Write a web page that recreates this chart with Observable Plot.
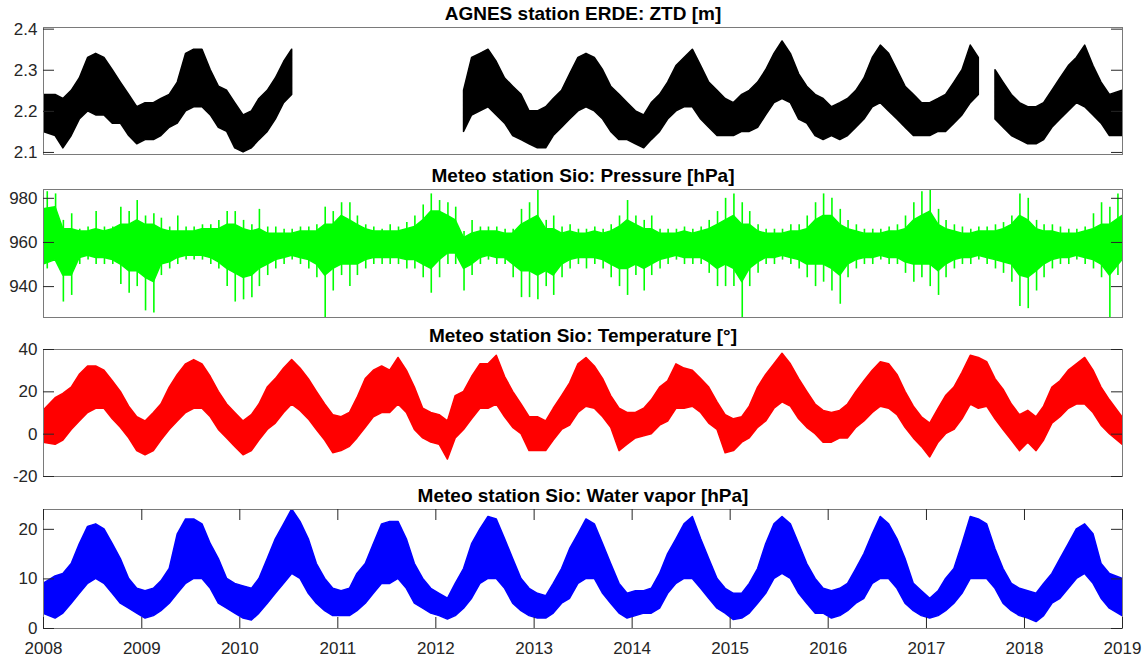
<!DOCTYPE html>
<html><head><meta charset="utf-8">
<script src="https://cdn.jsdelivr.net/npm/d3@7"></script>
<script src="https://cdn.jsdelivr.net/npm/@observablehq/plot@0.6"></script>
<style>
body{margin:0;background:#fff}
#chart{position:relative;width:1146px;height:662px;overflow:hidden;background:#fff}
#chart svg{position:absolute;left:0}
</style>
</head><body><div id="chart"></div><script>
// ---- monthly data, Jan 2008 .. Dec 2018 (132 months) ----
// ZTD [m] monthly band (low / high); null = no data
const ztdLo = [
2.15,2.14,2.11,2.14,2.18,2.20,2.19,2.19,2.17,2.17,2.14,2.12,
2.13,2.13,2.14,2.16,2.17,2.20,2.21,2.21,2.19,2.16,2.15,2.11,
2.10,2.11,2.13,2.15,2.18,2.22,2.24,null,null,null,null,null,
null,null,null,null,null,null,null,null,null,null,null,null,
null,null,null,2.15,2.19,2.20,2.21,2.19,2.17,2.14,2.13,2.12,
2.11,2.11,2.14,2.16,2.18,2.20,2.21,2.20,2.18,2.15,2.13,2.13,
2.12,2.11,2.13,2.15,2.18,2.20,2.21,2.21,2.18,2.16,2.14,2.14,
2.14,2.15,2.15,2.16,2.19,2.22,2.23,2.22,2.18,2.17,2.14,2.13,
2.14,2.13,2.14,2.16,2.18,2.21,2.22,2.20,2.18,2.16,2.14,2.14,
2.14,2.15,2.15,2.17,2.19,2.22,2.24,null,2.18,2.16,2.14,2.13,
2.12,2.12,2.13,2.16,2.18,2.20,2.22,2.21,2.19,2.17,2.14,2.14];
const ztdHi = [
2.24,2.24,2.23,2.25,2.28,2.33,2.34,2.33,2.30,2.27,2.24,2.21,
2.22,2.22,2.23,2.24,2.27,2.34,2.35,2.35,2.30,2.26,2.25,2.22,
2.19,2.20,2.23,2.25,2.28,2.32,2.35,null,null,null,null,null,
null,null,null,null,null,null,null,null,null,null,null,null,
null,null,null,2.25,2.33,2.34,2.35,2.32,2.28,2.26,2.24,2.20,
2.20,2.21,2.23,2.25,2.29,2.33,2.34,2.33,2.30,2.26,2.24,2.22,
2.20,2.19,2.22,2.24,2.27,2.31,2.33,2.35,2.31,2.27,2.25,2.23,
2.22,2.24,2.25,2.27,2.30,2.34,2.37,2.34,2.29,2.26,2.24,2.23,
2.21,2.22,2.23,2.25,2.28,2.33,2.36,2.34,2.30,2.26,2.24,2.22,
2.22,2.23,2.24,2.27,2.30,2.36,2.33,null,2.30,2.27,2.24,2.22,
2.21,2.21,2.22,2.25,2.28,2.31,2.33,2.36,2.31,2.27,2.24,2.25];

// Pressure [hPa]: dense core band and monthly extremes
const presCoreLo = [
950,952,945,945,953,954,953,953,952,950,947,947,
944,942,950,951,953,954,954,954,953,951,948,946,
944,945,948,950,952,953,954,953,952,950,945,948,
950,950,950,952,953,953,953,953,952,952,950,948,
952,955,955,948,950,953,954,953,953,950,947,947,
945,947,945,950,952,953,953,953,952,950,948,948,
950,948,950,952,953,954,953,953,953,951,948,950,
948,942,948,951,953,953,954,953,952,950,950,950,
948,945,950,952,953,953,954,953,953,951,950,950,
950,947,950,952,953,953,954,953,952,951,950,945,
944,947,950,952,953,953,954,953,952,950,945,952];
const presCoreHi = [
975,976,966,966,965,965,966,965,966,968,968,970,
968,968,966,965,965,965,965,966,966,966,968,968,
966,965,966,964,964,964,964,965,965,965,968,968,
972,970,968,966,965,965,965,965,966,967,970,974,
974,972,970,962,964,965,965,965,964,964,968,970,
972,966,966,964,965,964,964,965,964,965,967,970,
968,966,966,964,964,964,965,964,965,966,968,970,
972,968,968,965,964,964,964,965,965,966,970,972,
972,968,966,965,964,964,964,965,965,966,970,972,
974,968,966,965,964,964,965,965,965,966,968,972,
970,966,965,965,964,964,964,965,966,968,968,972];
const presMin = [
948,952,933,936,950,952,950,950,950,941,937,940,
929,928,945,948,950,952,952,952,950,948,940,933,
934,935,940,945,948,950,952,950,948,944,926,938,
945,940,945,948,950,950,950,950,948,948,944,937,
944,950,950,938,945,950,952,950,950,944,935,935,
934,940,936,944,948,950,948,950,948,944,940,936,
945,938,945,948,950,952,950,950,950,946,940,940,
940,926,940,946,950,950,952,950,948,944,940,942,
938,932,944,948,950,950,952,950,950,946,942,944,
940,936,944,948,950,950,952,950,948,946,942,931,
930,938,944,948,950,950,952,950,948,944,926,945];
const presMax = [
983,982,970,973,966,967,974,967,967,976,974,979,
972,973,971,967,972,967,967,968,968,970,974,974,
970,968,975,967,967,966,966,967,967,968,976,974,
978,978,972,968,967,966,968,967,969,972,977,982,
979,978,976,965,970,967,967,967,966,966,975,978,
984,970,972,967,968,966,966,967,966,968,972,979,
972,970,972,966,966,966,967,966,967,970,974,980,
982,978,974,968,966,966,966,968,968,972,978,982,
980,975,970,968,966,966,966,967,968,972,978,983,
984,975,970,968,967,966,967,967,968,969,972,982,
980,970,968,968,967,966,966,967,973,978,976,982];

// Temperature [°] monthly band
const tempLo = [
-4,-5,-3,2,6,10,12,12,7,3,-2,-8,
-10,-8,-3,2,6,10,12,12,8,2,-2,-6,
-10,-8,-3,2,5,10,14,11,7,2,-3,-9,
-8,-6,-2,3,8,10,10,14,10,2,-2,-4,
-5,-12,-2,2,7,12,12,14,8,3,0,-8,
-8,-8,-3,2,4,10,13,12,8,3,-8,-5,
-2,-1,0,4,6,12,12,13,10,5,2,-9,
-8,-4,-2,3,6,12,15,13,7,3,0,-4,
-4,-2,-2,3,6,10,13,12,9,3,-2,-6,
-11,-4,0,2,7,14,12,13,7,2,-3,-8,
-4,-8,-3,5,8,12,14,14,10,4,0,-5];
const tempHi = [
11,17,19,22,28,32,32,30,25,20,13,8,
6,10,14,22,28,33,35,33,27,20,14,10,
6,9,14,22,26,31,35,31,26,20,14,9,
8,10,17,26,30,32,30,36,30,22,12,10,
9,6,18,20,27,33,33,37,27,20,14,8,
8,6,12,18,24,33,36,32,26,18,12,10,
10,12,16,22,25,33,31,30,26,22,15,9,
7,8,13,22,28,33,38,33,26,20,14,11,
10,11,14,20,25,30,34,33,28,20,13,8,
5,12,18,22,29,37,36,34,26,21,14,9,
11,8,13,22,25,30,33,36,30,22,16,8];

// Water vapor [hPa] monthly band
const vapLo = [
3,2,3,5,7,9,10,9,7,5,4,3,
2,2.5,3.5,5,7,9,10,10,8,5,4,3,
2,1.6,3,5,7,9,11,10,7,5,3.5,2.5,
2.5,2.5,3.5,5,7,9,9,10,8,5,4,3,
2.5,1.8,2.5,4,6,9,10,10,8,5,3.5,2.5,
2,2,3,5,6,9,10,10,7,5,3,2,
2.5,3,3,4,7,9,10,10,8,6,4,3,
1.7,2,3,5,7,10,11,10,7,5,3,3,
2,2.5,3.5,5,6,9,10,10,8,5,3.5,2.5,
2,2.5,3.5,5,7,10,10,10,8,5,3.5,2.5,
2,1.3,2.5,5,6,8,10,11,9,6,4,2.5];
const vapHi = [
9,10.5,11,13,17,20.5,21,20,17,14,10,8,
7.5,8,9.5,12,19,22,22,21,17,14,10,9,
8.5,8,10,14,18,21,24,21.5,18,13,10,8,
7.5,8,11,13,17,21,21.5,21.5,18,13,10,8,
7,6,9,12,17,20,22.5,22,18,14,10,8,
7,6.5,9,12,16,19,22,21,17,13,9,7,
7.5,7.5,8,11,15,18,21,22.5,18,14,10,8,
7,7,9,12,17,21,22.5,21,17,13,10,8,
7.5,8,9,12,15,19,22.5,21,18,14,9,7.5,
6,7.5,10,12,17,22.5,22,21,16,12,9,8,
7.5,7,9,11,14,17,20,21,19,13,11,10];

// axis ticks
const xTickYears = [2008,2009,2010,2011,2012,2013,2014,2015,2016,2017,2018,2019];
const ztdTicks = [2.1,2.2,2.3,2.4];
const presTicks = [940,960,980];
const tempTicks = [-20,0,20,40];
const vapTicks = [0,10,20];

// ---- build table ----
const t0 = new Date(Date.UTC(2008,0,1)), t1 = new Date(Date.UTC(2019,0,1));
const months = d3.utcMonth.range(t0, t1);
const num = v => (v == null ? NaN : v);
const rows = months.map((m, i) => ({
  date: i === 0 ? m : i === months.length - 1 ? t1 : d3.utcDay.offset(m, 14),
  mid: d3.utcDay.offset(m, 14),
  ztdLo: num(ztdLo[i]), ztdHi: num(ztdHi[i]),
  pcLo: presCoreLo[i], pcHi: presCoreHi[i], pMin: presMin[i], pMax: presMax[i],
  tLo: tempLo[i], tHi: tempHi[i],
  vLo: vapLo[i], vHi: vapHi[i]
}));
const xTicks = xTickYears.map(y => new Date(Date.UTC(y,0,1)));

const W = 1146, ML = 43, MR = 24, FW = W - ML - MR;
const TICK = "#262626";
const plain = d => String(d);
const panels = [
  {title:"AGNES station ERDE: ZTD [m]", lo:"ztdLo", hi:"ztdHi", color:"#000000",
   domain:[2.095,2.404], ticks:ztdTicks, fmt:d3.format(".1f"), top:0, mt:27, fh:127, mb:4},
  {title:"Meteo station Sio: Pressure [hPa]", lo:"pcLo", hi:"pcHi", color:"#00ff00", spikes:true,
   domain:[926,984], ticks:presTicks, fmt:plain, top:160, mt:29, fh:128, mb:6},
  {title:"Meteo station Sio: Temperature [°]", lo:"tLo", hi:"tHi", color:"#ff0000",
   domain:[-20,40], ticks:tempTicks, fmt:plain, top:323, mt:26, fh:127, mb:6},
  {title:"Meteo station Sio: Water vapor [hPa]", lo:"vLo", hi:"vHi", color:"#0000ff", xaxis:true,
   domain:[0,24], ticks:vapTicks, fmt:plain, top:482, mt:27, fh:119, mb:34}
];

const chart = document.getElementById("chart");
for (const p of panels) {
  const marks = [
    Plot.areaY(rows, {x:"date", y1:p.lo, y2:p.hi, fill:p.color, stroke:p.color,
      strokeWidth:1.5, curve:"linear", clip:true})
  ];
  if (p.spikes) marks.push(Plot.ruleX(rows, {x:"mid", y1:"pMin", y2:"pMax", stroke:p.color,
      strokeWidth:1.6, clip:true}));
  marks.push(
    Plot.frame({stroke:"#7a7a7a", strokeWidth:1}),
    Plot.tickY(p.ticks, {y:d=>d, insetRight:FW-11, stroke:TICK}),
    Plot.tickY(p.ticks, {y:d=>d, insetLeft:FW-11, stroke:TICK}),
    Plot.axisY(p.ticks, {tickSize:0, tickPadding:6, tickFormat:p.fmt, fontSize:17}),
    Plot.text([p.title], {text:d=>d, frameAnchor:"top", dy:-14, lineAnchor:"middle",
      fontWeight:"bold", fontSize:19, fill:"#000"})
  );
  if (p.xaxis) marks.push(
    Plot.tickX(xTicks, {x:d=>d, insetTop:p.fh-11, stroke:TICK}),
    Plot.tickX(xTicks, {x:d=>d, insetBottom:p.fh-11, stroke:TICK}),
    Plot.axisX(xTicks, {tickSize:0, tickPadding:13, tickFormat:d3.utcFormat("%Y"), fontSize:17})
  );
  const svg = Plot.plot({
    width: W, height: p.mt + p.fh + p.mb,
    marginLeft: ML, marginRight: MR, marginTop: p.mt, marginBottom: p.mb,
    x: {type:"utc", domain:[t0, t1], axis: p.xaxis ? undefined : null},
    y: {domain:p.domain, axis:null},
    style: {fontFamily:'"Liberation Sans", Arial, Helvetica, sans-serif', fontSize:"17px",
            color:TICK, background:"transparent", overflow:"visible"},
    marks
  });
  svg.style.top = p.top + "px";
  chart.appendChild(svg);
}
</script></body></html>
